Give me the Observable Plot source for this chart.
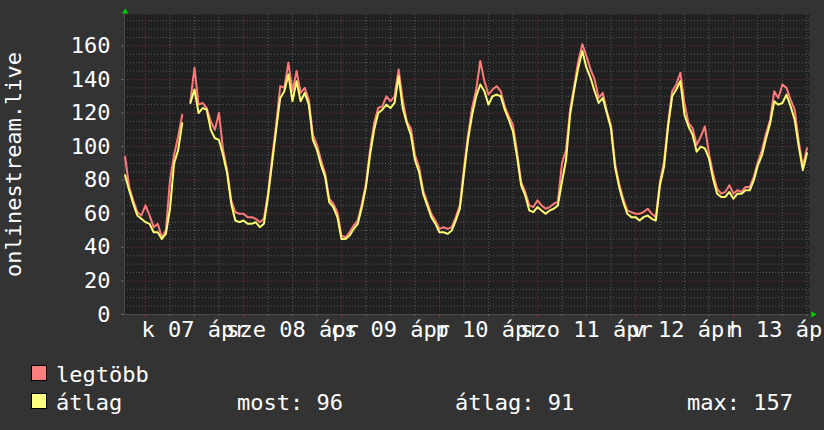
<!DOCTYPE html>
<html>
<head>
<meta charset="utf-8">
<script src="https://cdn.jsdelivr.net/npm/d3@7"></script>
<script src="https://cdn.jsdelivr.net/npm/@observablehq/plot@0.6"></script>
<style>
  html, body { margin: 0; padding: 0; background: #333333; }
  #chart { width: 824px; height: 430px; background: #333333; overflow: hidden; }
  #chart svg { display: block; }
</style>
</head>
<body>
<div id="chart"></div>
<script>
// ---- data (hourly samples, first sample at 2026-04-06 19:00 UTC) ----
const firstHour = -5; // hours relative to 2026-04-07 00:00
const atlag = [
  83, 74, 66, 59, 57,
  55, 54, 49, 49, 45, 48, 63, 90, 98, 114, null, 126, 134, 120, 123, 122, 110, 105, 104, 95, 84, 66, 56, 55,
  56, 54, 54, 55, 52, 54, 70, 90, 110, 129, 133, 143, 127, 139, 127, 132, 125, 104, 98, 89, 82, 67, 64, 58,
  45, 45, 47, 51, 54, 64, 76, 95, 110, 120, 122, 125, 123, 126, 142, 123, 114, 107, 92, 85, 72, 65, 58, 54,
  49, 49, 48, 50, 56, 63, 84, 104, 119, 130, 137, 133, 125, 130, 131, 130, 122, 116, 109, 94, 77, 71, 62, 61,
  64, 62, 60, 62, 63, 65, 79, 92, 119, 134, 147, 157, 147, 141, 133, 126, 129, 120, 111, 88, 76, 67, 60, 58,
  58, 56, 58, 59, 57, 56, 77, 88, 112, 130, 134, 139, 119, 112, 107, 97, 100, 99, 93, 81, 72, 70, 70, 73,
  69, 72, 72, 74, 74, 80, 89, 95, 105, 114, 127, 125, 126, 131, 124, 116, 100, 86, 96
];
const legtobb = [
  94, 76, 68, 61, 59,
  65, 59, 52, 54, 46, 50, 80, 95, 106, 119, null, 127, 147, 125, 126, 123, 115, 110, 120, 98, 86, 68, 61, 60,
  60, 58, 58, 57, 55, 57, 72, 93, 113, 136, 135, 150, 133, 145, 132, 135, 128, 107, 101, 92, 84, 69, 66, 61,
  47, 46, 49, 53, 56, 66, 78, 98, 114, 123, 124, 130, 127, 130, 146, 128, 115, 111, 95, 88, 74, 67, 60, 56,
  51, 52, 51, 52, 58, 65, 87, 107, 123, 134, 151, 139, 131, 134, 136, 133, 124, 118, 113, 97, 79, 73, 65, 64,
  68, 65, 63, 64, 66, 67, 90, 98, 122, 136, 151, 161, 154, 146, 140, 129, 132, 121, 113, 90, 78, 69, 62, 61,
  60, 60, 61, 63, 60, 58, 79, 91, 114, 133, 137, 144, 126, 114, 111, 101, 106, 112, 96, 84, 75, 72, 73, 77,
  72, 74, 73, 76, 76, 82, 91, 98, 108, 116, 133, 129, 137, 135, 128, 122, 103, 88, 99
];
const yTicks = [0, 20, 40, 60, 80, 100, 120, 140, 160];
const dayLabels = ["k 07 ápr", "sze 08 ápr", "cs 09 ápr", "p 10 ápr", "szo 11 ápr", "v 12 ápr", "h 13 ápr"];
const yTitle = "onlinestream.live";
const seriesNames = ["legtöbb", "átlag"];
const statNames = ["most", "átlag", "max"];
const statValues = [96, 91, 157];

// ---- derived tables ----
const HOUR = 36e5;
const base = Date.UTC(2026, 3, 7);
const T = h => new Date(base + h * HOUR);
const rows = atlag.map((a, i) => ({ t: T(firstHour + i), atlag: a, legtobb: legtobb[i] }));
const x0 = T(-5.14), x1 = T(162.63);
const yMax = 178.7;
const noons = dayLabels.map((_, i) => T(12 + 24 * i));
const midnights = dayLabels.map((_, i) => T(24 * i));
const sixes = d3.range(0, 28).map(i => T(6 * i)).filter(d => d > x0 && d < x1 && d.getUTCHours() !== 0);
const minorY = d3.range(5, yMax, 5).filter(v => v % 20 !== 0);
const majorY = yTicks.filter(v => v > 0);

const FONT = "DejaVu Sans Mono";
const upTri = { draw(ctx, size) { const r = Math.sqrt(size / Math.PI); ctx.moveTo(0, -r * 0.8); ctx.lineTo(r, r * 0.8); ctx.lineTo(-r, r * 0.8); ctx.closePath(); } };
const rightTri = { draw(ctx, size) { const r = Math.sqrt(size / Math.PI); ctx.moveTo(r * 0.9, 0); ctx.lineTo(-r * 0.9, -r); ctx.lineTo(-r * 0.9, r); ctx.closePath(); } };

const plot = Plot.plot({
  width: 824,
  height: 345,
  marginLeft: 124,
  marginRight: 15,
  marginTop: 14,
  marginBottom: 31,
  style: { background: "transparent", color: "#ffffff", fontFamily: FONT, fontSize: "22px", overflow: "visible" },
  x: { type: "utc", domain: [x0, x1], label: null },
  y: { domain: [0, yMax], label: null },
  marks: [
    Plot.frame({ fill: "#212121", stroke: null }),
    Plot.ruleY(minorY, { stroke: "#5a5a5a", strokeDasharray: "1,2" }),
    Plot.ruleX(sixes, { stroke: "#5a5a5a", strokeDasharray: "1,2" }),
    Plot.ruleY(majorY, { stroke: "#7a3030", strokeDasharray: "1,2" }),
    Plot.ruleX(midnights, { stroke: "#7a3030", strokeDasharray: "1,2" }),
    Plot.ruleY([0], { stroke: "#4a4a4a" }),
    Plot.ruleX([x0], { stroke: "#4a4a4a" }),
    Plot.ruleX(midnights, { y1: 0, y2: -1.6, stroke: "#b03030", clip: false }),
    Plot.ruleX(sixes, { y1: 0, y2: -1.2, stroke: "#666666", clip: false }),
    Plot.line(rows, { x: "t", y: "legtobb", stroke: "#ff7b7b", strokeWidth: 2, curve: "linear" }),
    Plot.line(rows, { x: "t", y: "atlag", stroke: "#ffff73", strokeWidth: 2, curve: "linear" }),
    Plot.axisY({ ticks: yTicks, tickSize: 3, tickPadding: 11, stroke: "#666666", fill: "#ffffff", fontSize: 22, label: null }),
    Plot.axisX({ ticks: noons, tickSize: 0, tickPadding: 7, tickFormat: (d, i) => dayLabels[i], fill: "#ffffff", fontSize: 22, label: null }),
    Plot.text([yTitle], { text: d => d, frameAnchor: "left", dx: -111, rotate: -90, textAnchor: "middle", fill: "#ffffff", fontSize: 22, lineAnchor: "middle" }),
    Plot.dot([0], { x: () => x0, y: () => yMax, dx: 0.7, dy: -3.5, r: 3.2, symbol: upTri, fill: "#00d000", stroke: null, clip: false }),
    Plot.dot([0], { x: () => x1, y: () => 0, dx: 4.5, r: 3, symbol: rightTri, fill: "#00d000", stroke: null, clip: false })
  ]
});
document.getElementById("chart").appendChild(plot);

// ---- legend below the plot ----
const lg = d3.select("#chart").append("svg")
  .attr("width", 824).attr("height", 85)
  .style("font-family", FONT).style("font-size", "22px");
const swatchColors = ["#ff7f7f", "#ffff80"];
const baselines = [37, 65];
seriesNames.forEach((name, i) => {
  lg.append("rect").attr("x", 31.5).attr("y", baselines[i] - 16.5).attr("width", 15).attr("height", 15)
    .attr("fill", swatchColors[i]).attr("stroke", "#000000");
  lg.append("text").attr("x", 56).attr("y", baselines[i]).attr("fill", "#ffffff").text(name);
});
const statX = [237, 455, 687];
statNames.forEach((n, i) => {
  lg.append("text").attr("x", statX[i]).attr("y", baselines[1]).attr("fill", "#ffffff")
    .text(`${n}: ${statValues[i]}`);
});
</script>
</body>
</html>
